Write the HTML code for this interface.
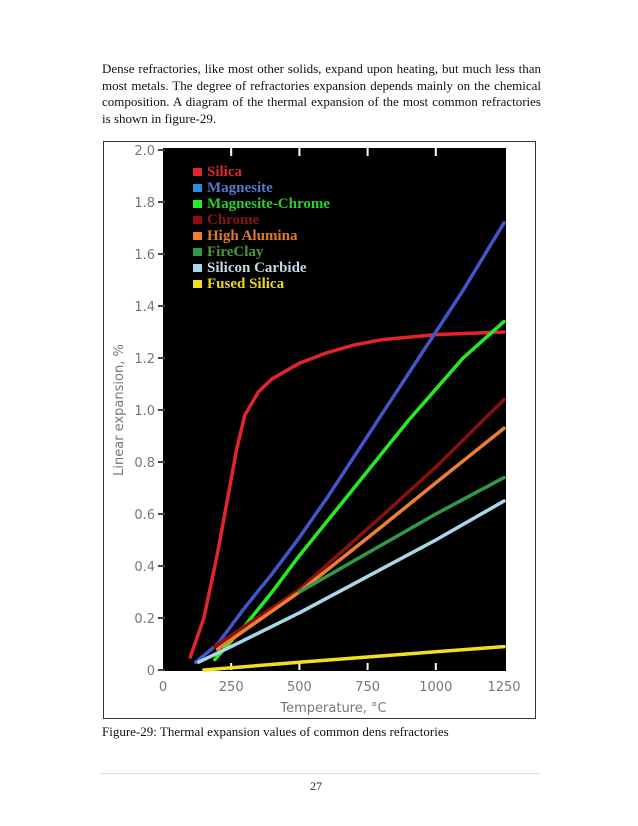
<!DOCTYPE html>
<html><head><meta charset="utf-8">
<style>
body{margin:0;background:#fff;width:638px;height:826px;position:relative;overflow:hidden;font-family:"Liberation Serif",serif;}
#para{position:absolute;left:102px;top:61px;width:439px;font-size:13px;line-height:16.5px;text-align:justify;color:#111;}
#frame{position:absolute;left:103px;top:141px;width:433px;height:578px;border:1px solid #333;box-sizing:border-box;}
#caption{position:absolute;left:102px;top:724px;font-size:13px;color:#111;}
#rule{position:absolute;left:100px;top:773px;width:440px;height:1px;background:#ddd;}
#pnum{position:absolute;left:310px;top:779px;font-size:12px;color:#222;}
svg{position:absolute;left:0;top:0;}
</style></head><body>
<div id="para">Dense refractories, like most other solids, expand upon heating, but much less than most metals. The degree of refractories expansion depends mainly on the chemical composition. A diagram of the thermal expansion of the most common refractories is shown in figure-29.</div>
<div id="frame"></div>
<svg id="chart" width="638" height="826"></svg>
<div id="caption">Figure-29: Thermal expansion values of common dens refractories</div>
<div id="rule"></div>
<div id="pnum">27</div>
<script>
const xTicks=[0,250,500,750,1000,1250];
const yTicks=[0,0.2,0.4,0.6,0.8,1.0,1.2,1.4,1.6,1.8,2.0];
const seriesNames=["Silica","Magnesite","Magnesite-Chrome","Chrome","High Alumina","FireClay","Silicon Carbide","Fused Silica"];
const seriesColors=["#e3242b","#4455cc","#22ee22","#8a1010","#f08030","#2e9a48","#a8d8e8","#f2e020"];
const legendColors=["#e3242b","#2a90d8","#22ee22","#8a1010","#f08030","#2e9a48","#a8d8e8","#f2e020"];
const legendTextColors=["#d82a2a","#5a78c8","#2ecc2e","#8a1414","#e07a30","#4a9a3a","#c8d8e0","#e8d820"];
const silicaT=[100,150,200,230,270,300,350,400,500,600,700,800,1000,1250];
const silicaV=[0.05,0.2,0.45,0.62,0.85,0.98,1.07,1.12,1.18,1.22,1.25,1.27,1.29,1.30];
const magT=[120,200,300,400,500,600,700,800,900,1000,1100,1250];
const magV=[0.03,0.1,0.24,0.37,0.51,0.66,0.82,0.98,1.14,1.30,1.46,1.72];
const magChT=[190,300,400,500,600,700,800,900,1000,1100,1250];
const magChV=[0.04,0.17,0.3,0.44,0.57,0.70,0.83,0.96,1.08,1.20,1.34];
const chromeT=[190,500,800,1000,1250];
const chromeV=[0.09,0.31,0.59,0.78,1.04];
const haT=[200,500,800,1000,1250];
const haV=[0.08,0.3,0.55,0.72,0.93];
const fcT=[500,750,1000,1250];
const fcV=[0.3,0.45,0.6,0.74];
const scT=[130,250,500,750,1000,1250];
const scV=[0.03,0.09,0.22,0.36,0.5,0.65];
const fsT=[150,500,750,1000,1250];
const fsV=[0.0,0.03,0.05,0.07,0.09];
const seriesT=[silicaT,magT,magChT,chromeT,haT,fcT,scT,fsT];
const seriesV=[silicaV,magV,magChV,chromeV,haV,fcV,scV,fsV];
const drawOrder=[0,1,2,3,4,5,6,7];

const NS="http://www.w3.org/2000/svg";
const svg=document.getElementById('chart');
const X0=163,X1=504,Y0=670,Y1=150;
const xs=v=>X0+(v/1250)*(X1-X0);
const ys=v=>Y0-(v/2.0)*(Y0-Y1);
function mk(tag,attrs,parent){const e=document.createElementNS(NS,tag);for(const k in attrs)e.setAttribute(k,attrs[k]);(parent||svg).appendChild(e);return e;}

const bg=mk('rect',{x:X0,y:Y1-2,width:X1-X0+2,height:Y0-Y1+3,fill:'#000'});



xTicks.forEach(t=>{
  const tx=mk('text',{x:xs(t),y:Y0+21,'text-anchor':'middle','font-family':'DejaVu Sans, sans-serif','font-size':'13','fill':'#777'});
  tx.textContent=t;
  
  
  if(t>0&&t<1250){
    const l1=mk('line',{x1:xs(t),x2:xs(t),y1:Y0,y2:Y0-7,stroke:'#fff','stroke-width':2});
    
    
    const l2=mk('line',{x1:xs(t),x2:xs(t),y1:Y1-2,y2:Y1+6,stroke:'#fff','stroke-width':2});
    
    
  }
});
yTicks.forEach(t=>{
  const tx=mk('text',{x:X0-8,y:ys(t)+5,'text-anchor':'end','font-family':'DejaVu Sans, sans-serif','font-size':'13','fill':'#777'});
  tx.textContent=(t===0)?'0':t.toFixed(1);
  
  
  const l=mk('line',{x1:X0-5,x2:X0+2,y1:ys(t),y2:ys(t),stroke:'#444','stroke-width':2});
  
  
});
const xt=mk('text',{x:(X0+X1)/2,y:Y0+42,'text-anchor':'middle','font-family':'DejaVu Sans, sans-serif','font-size':'13','fill':'#777'});
xt.textContent='Temperature, °C';


const yt=mk('text',{x:0,y:0,'text-anchor':'middle','font-family':'DejaVu Sans, sans-serif','font-size':'13','fill':'#777',transform:`translate(123,${(Y0+Y1)/2}) rotate(-90)`});
yt.textContent='Linear expansion, %';



drawOrder.forEach(i=>{
  const T=seriesT[i],V=seriesV[i];
  let d='';
  T.forEach((t,j)=>{d+=(j?'L':'M')+xs(t).toFixed(1)+','+ys(V[j]).toFixed(1);});
  const p=mk('path',{d:d,fill:'none',stroke:seriesColors[i],'stroke-width':3.5,'stroke-linejoin':'round','stroke-linecap':'round'});
  
  
});

seriesNames.forEach((n,i)=>{
  const y=176+i*16;
  const r=mk('rect',{x:193,y:y-8,width:9,height:8,fill:legendColors[i]});
  
  
  const t=mk('text',{x:207,y:y,'font-family':'Liberation Serif, serif','font-size':'15','font-weight':'bold',fill:legendTextColors[i]});
  t.textContent=n;
  
  
});
</script>
</body></html>
